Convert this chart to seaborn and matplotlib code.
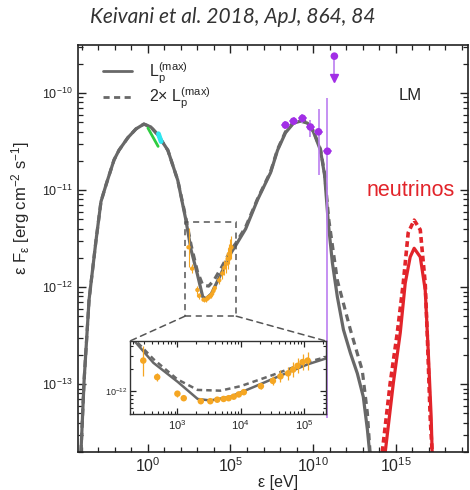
import numpy as np
import matplotlib
matplotlib.use("Agg")
import matplotlib.pyplot as plt
import matplotlib.ticker as mticker
from matplotlib.patches import Rectangle, ConnectionPatch
from matplotlib.lines import Line2D
import seaborn as sns

# All values are log10(ε / eV) and log10(εFε / erg cm^-2 s^-1)

# photon SED for L_p^(max)
sed_loge = [-4.05, -3.86, -3.56, -3.14, -2.84, -2.54, -2.05, -1.75, -1.21, -0.72,
            -0.24, 0.18, 0.60, 1.21, 1.81, 2.29, 2.62, 3.00, 3.32, 3.52,
            3.84, 4.21, 4.63, 5.06, 5.32, 5.92, 6.64, 7.43, 7.85, 8.33,
            8.82, 9.24, 9.66, 10.02, 10.45, 10.70, 10.93, 11.17, 11.47, 11.84,
            12.26, 12.68, 13.04, 13.29, 13.45]
sed_logf = [-13.70, -12.96, -12.13, -11.52, -11.12, -10.95, -10.69, -10.59, -10.46, -10.37,
            -10.32, -10.35, -10.43, -10.59, -10.90, -11.30, -11.62, -11.87, -12.10, -12.12,
            -12.07, -11.94, -11.79, -11.64, -11.57, -11.40, -11.10, -10.82, -10.59, -10.41,
            -10.31, -10.29, -10.31, -10.40, -10.59, -10.85, -11.35, -11.75, -12.10, -12.44,
            -12.68, -12.89, -13.13, -13.47, -13.75]

# photon SED for 2 x L_p^(max)
sed2_loge = [-4.05, -3.86, -3.56, -3.14, -2.84, -2.54, -2.05, -1.75, -1.21, -0.72,
             -0.24, 0.18, 0.60, 1.21, 1.81, 2.29, 2.62, 3.00, 3.32, 3.68,
             4.00, 4.48, 5.06, 5.32, 5.92, 6.64, 7.43, 7.85, 8.33,
             8.82, 9.24, 9.66, 10.02, 10.45, 10.70, 10.95, 11.47, 12.26, 12.98,
             13.29, 13.48]
sed2_logf = [-13.70, -12.96, -12.13, -11.52, -11.12, -10.95, -10.69, -10.59, -10.46, -10.37,
             -10.32, -10.35, -10.43, -10.59, -10.90, -11.28, -11.57, -11.84, -11.98, -11.99,
             -11.93, -11.79, -11.61, -11.55, -11.38, -11.09, -10.81, -10.58, -10.40,
             -10.30, -10.28, -10.30, -10.39, -10.58, -10.83, -11.30, -11.93, -12.44, -12.86,
             -13.30, -13.78]

# all-flavour neutrino spectra
nu_loge = [14.37, 14.86, 15.28, 15.58, 15.88, 16.12, 16.49, 16.79, 16.97, 17.15, 17.21]
nu_logf = [-13.70, -12.99, -12.47, -11.96, -11.69, -11.60, -11.69, -12.03, -12.65, -13.34, -13.70]
nu2_loge = [14.19, 14.67, 15.10, 15.46, 15.76, 16.12, 16.49, 16.79, 16.91, 17.09, 17.21]
nu2_logf = [-13.70, -12.99, -12.47, -11.96, -11.44, -11.31, -11.41, -11.96, -12.47, -13.34, -13.70]

# Fermi-LAT
lat_loge = [8.33, 8.82, 9.36, 9.84, 10.33, 10.87]
lat_logf = [-10.33, -10.29, -10.26, -10.35, -10.40, -10.60]
lat_err_lo = [0.04, 0.04, 0.05, 0.10, 0.45, 2.75]
lat_err_hi = [0.04, 0.04, 0.04, 0.07, 0.24, 0.55]
lat_half_bin = 0.25
lat_ul_loge = 11.29
lat_ul_logf = -9.62

# Swift-XRT / NuSTAR
xray_loge = [2.46, 2.68, 3.00, 3.10, 3.37, 3.52, 3.63, 3.73, 3.81, 3.89, 3.97, 4.05,
             4.32, 4.51, 4.63, 4.75, 4.83, 4.90, 4.98, 5.06]
xray_logf = [-11.59, -11.81, -12.03, -12.09, -12.13, -12.13, -12.11, -12.10, -12.09, -12.07,
             -12.04, -12.01, -11.93, -11.86, -11.80, -11.76, -11.71, -11.66, -11.61, -11.59]
xray_err = [0.20, 0.05, 0.04, 0.03, 0.02, 0.02, 0.02, 0.02, 0.02, 0.02, 0.02, 0.02,
            0.04, 0.06, 0.08, 0.09, 0.10, 0.10, 0.11, 0.12]

# optical / UV
opt_loge = [0.00, 0.62]
opt_logf = [-10.36, -10.55]
uv_loge = [0.64, 0.80]
uv_logf = [-10.42, -10.50]

GREY = "#686868"
RED = "#e2242a"
PURPLE = "#a22ee6"
PURPLE_LIGHT = "#bb7ef0"
ORANGE = "#f5a623"

sns.set_style("ticks")
plt.rcParams["font.family"] = ["Liberation Sans", "DejaVu Sans"]
plt.rcParams["mathtext.fontset"] = "custom"
plt.rcParams["mathtext.rm"] = "Liberation Sans"
plt.rcParams["mathtext.it"] = "Liberation Sans:italic"
plt.rcParams["mathtext.bf"] = "Liberation Sans:bold"

p = lambda v: 10.0 ** np.asarray(v, dtype=float)

fig = plt.figure(figsize=(4.7, 4.9), dpi=100)
ax = fig.add_axes([78 / 470, 38 / 490, 390 / 470, 407 / 490])
ax.set_xscale("log")
ax.set_yscale("log")


def draw_curves(a, lw):
    sns.lineplot(x=p(sed2_loge), y=p(sed2_logf), ax=a, color=GREY, lw=lw,
                 linestyle=(0, (2.2, 1.6)), sort=False, estimator=None)
    sns.lineplot(x=p(sed_loge), y=p(sed_logf), ax=a, color=GREY, lw=lw,
                 sort=False, estimator=None)


draw_curves(ax, 2.3)
sns.lineplot(x=p(nu2_loge), y=p(nu2_logf), ax=ax, color=RED, lw=2.6,
             linestyle=(0, (1.6, 1.0)), sort=False, estimator=None)
sns.lineplot(x=p(nu_loge), y=p(nu_logf), ax=ax, color=RED, lw=2.3,
             sort=False, estimator=None)

# optical and UV
sns.lineplot(x=p(opt_loge), y=p(opt_logf), ax=ax, color="#2ecc40", lw=2.0,
             sort=False, estimator=None)
sns.lineplot(x=p(uv_loge), y=p(uv_logf), ax=ax, color="#2ee6f0", lw=3.5,
             sort=False, estimator=None)

# X-ray
xe = p(xray_loge)
xf = p(xray_logf)
xerr = np.array(xray_err)
ax.errorbar(xe, xf, yerr=[xf - xf * 10 ** -xerr, xf * 10 ** xerr - xf], fmt="none",
            ecolor=ORANGE, elinewidth=0.8, zorder=3)
sns.scatterplot(x=xe, y=xf, ax=ax, color=ORANGE, s=10, edgecolor="none", zorder=4)

# Fermi-LAT
le = p(lat_loge)
lf = p(lat_logf)
ax.errorbar(le, lf,
            xerr=[le - le * 10 ** -lat_half_bin, le * 10 ** lat_half_bin - le],
            yerr=[lf - lf * 10 ** -np.array(lat_err_lo), lf * 10 ** np.array(lat_err_hi) - lf],
            fmt="none", ecolor=PURPLE_LIGHT, elinewidth=1.2, zorder=5)
sns.scatterplot(x=le, y=lf, ax=ax, color=PURPLE, s=30, edgecolor="none", zorder=6)
ul_x = p(lat_ul_loge)
ul_y = p(lat_ul_logf)
ax.plot([ul_x, ul_x], [ul_y, ul_y * 10 ** -0.2], color=PURPLE_LIGHT, lw=1.2, zorder=5)
ax.plot([ul_x], [ul_y * 10 ** -0.22], marker="v", color=PURPLE, ms=6, zorder=6)
sns.scatterplot(x=[ul_x], y=[ul_y], ax=ax, color=PURPLE, s=30, edgecolor="none", zorder=6)

ax.set_xlim(10 ** -4.23, 10 ** 19.38)
ax.set_ylim(10 ** -13.70, 10 ** -9.505)

ax.xaxis.set_major_locator(mticker.FixedLocator([1e0, 1e5, 1e10, 1e15]))
ax.xaxis.set_minor_locator(mticker.FixedLocator(p(np.arange(-4, 20))))
ax.xaxis.set_minor_formatter(mticker.NullFormatter())
ax.yaxis.set_major_locator(mticker.FixedLocator([1e-13, 1e-12, 1e-11, 1e-10]))
ax.yaxis.set_minor_locator(mticker.FixedLocator(
    [m * 10.0 ** d for d in range(-14, -9) for m in range(2, 10)
     if 10 ** -13.70 < m * 10.0 ** d < 10 ** -9.505]))
ax.yaxis.set_minor_formatter(mticker.NullFormatter())
ax.tick_params(which="both", direction="in", top=True, right=True, color="#222222")
ax.tick_params(which="major", length=6, width=1.0)
ax.tick_params(which="minor", length=3.5, width=0.9)
ax.tick_params(axis="x", which="major", labelsize=11.5, pad=3)
ax.tick_params(axis="y", which="major", labelsize=9, pad=4)
for s in ax.spines.values():
    s.set_linewidth(1.2)
    s.set_color("#222222")

ax.set_xlabel("ε [eV]", fontsize=11.5)
ax.xaxis.set_label_coords(0.513, -0.056)
ax.set_ylabel(r"ε F$_\mathregular{ε}$ [erg cm$^\mathregular{-2}$ s$^\mathregular{-1}$]", fontsize=12)
ax.yaxis.set_label_coords(-0.118, 0.60)

handles = [Line2D([], [], color=GREY, lw=2.0),
           Line2D([], [], color=GREY, lw=2.0, linestyle=(0, (2.2, 1.6)))]
labels = [r"L$_\mathregular{p}^\mathregular{(max)}$", r"2$\times$ L$_\mathregular{p}^\mathregular{(max)}$"]
ax.legend(handles, labels, loc="upper left", bbox_to_anchor=(0.064, 0.962), frameon=False,
          fontsize=11.5, handlelength=1.8, handletextpad=1.1, labelspacing=0.0,
          borderpad=0.0, borderaxespad=0.0)

ax.text(0.853, 0.875, "LM", transform=ax.transAxes, fontsize=12, ha="center", va="center")
ax.text(0.853, 0.642, "neutrinos", transform=ax.transAxes, fontsize=15.5, color=RED,
        ha="center", va="center")

fig.text(0.496, 0.965, "Keivani et al. 2018, ApJ, 864, 84", fontsize=15, style="italic",
         family=["Lato", "DejaVu Sans"], color="#333333", ha="center", va="center")

# zoomed inset around the X-ray dip
ix0, ix1 = 2.25, 5.35
iy0, iy1 = -12.30, -11.33
ax.add_patch(Rectangle((p(ix0), p(iy0)), p(ix1) - p(ix0), p(iy1) - p(iy0), fill=False,
                       ls=(0, (4, 3)), lw=1.1, ec="#555555", zorder=7))

axin = fig.add_axes([130 / 470, 76 / 490, 196 / 470, 73 / 490])
axin.set_xscale("log")
axin.set_yscale("log")
draw_curves(axin, 1.8)
axin.errorbar(xe, xf, yerr=[xf - xf * 10 ** -xerr, xf * 10 ** xerr - xf], fmt="none",
              ecolor=ORANGE, elinewidth=0.9, zorder=3)
sns.scatterplot(x=xe, y=xf, ax=axin, color=ORANGE, s=22, edgecolor="none", zorder=4)
axin.set_xlim(p(ix0), p(ix1))
axin.set_ylim(p(iy0), p(iy1))
axin.xaxis.set_major_locator(mticker.FixedLocator([1e3, 1e4, 1e5]))
axin.xaxis.set_minor_locator(mticker.FixedLocator(
    [m * 10.0 ** d for d in range(2, 6) for m in range(2, 10)
     if p(ix0) < m * 10.0 ** d < p(ix1)]))
axin.xaxis.set_minor_formatter(mticker.NullFormatter())
axin.yaxis.set_major_locator(mticker.FixedLocator([1e-12]))
axin.yaxis.set_minor_locator(mticker.FixedLocator(
    [m * 10.0 ** d for d in range(-13, -11) for m in range(2, 10)
     if p(iy0) < m * 10.0 ** d < p(iy1)]))
axin.yaxis.set_minor_formatter(mticker.NullFormatter())
axin.tick_params(which="both", direction="in", top=True, right=True, color="#222222")
axin.tick_params(which="major", length=4, width=0.9)
axin.tick_params(which="minor", length=2.5, width=0.8)
axin.tick_params(axis="x", labelsize=8, pad=3)
axin.tick_params(axis="y", labelsize=6.5, pad=2)
for s in axin.spines.values():
    s.set_linewidth(1.0)
    s.set_color("#333333")
axin.set_facecolor("white")

for xa, xb in [(p(ix0), 0.0), (p(ix1), 1.0)]:
    con = ConnectionPatch(xyA=(xa, p(iy0)), coordsA=ax.transData,
                          xyB=(xb, 1.0), coordsB=axin.transAxes,
                          ls=(0, (4, 3)), lw=1.1, color="#555555")
    fig.add_artist(con)

fig.savefig("out.png", dpi=100)
